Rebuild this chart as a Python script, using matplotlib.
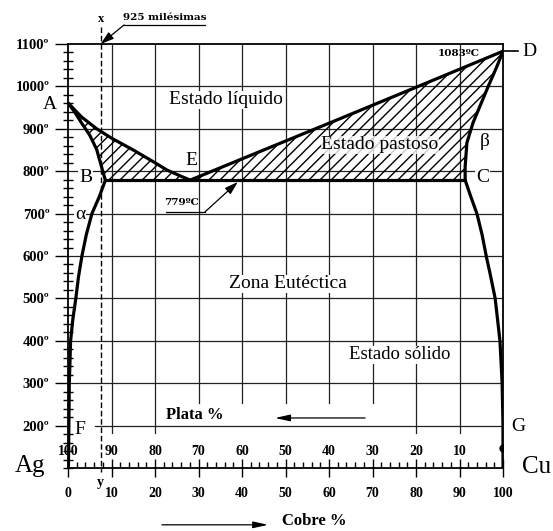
import matplotlib
matplotlib.use('Agg')
import matplotlib.pyplot as plt
from matplotlib.patches import Polygon

# liquidus lado plata (A -> E)
liq_ag_x = [0, 3.1, 6.6, 10, 15, 20, 22.7, 26, 28.1]
liq_ag_t = [961, 928, 900, 878, 850, 820, 803, 788, 779]
# liquidus lado cobre (E -> D)
liq_cu_x = [28.1, 60.2, 80.5, 100]
liq_cu_t = [779, 914, 1000, 1083]
# solidus alfa (A -> B)
sol_ag_x = [0, 1.5, 3.1, 5, 6.6, 8.1, 8.6]
sol_ag_t = [961, 940, 914, 885, 851, 796, 779]
# solvus alfa (B -> F)
solv_ag_x = [8.6, 7.2, 5.5, 4.2, 3.2, 2.4, 1.8, 1.1, 0.6, 0.3, 0.2, 0.1]
solv_ag_t = [779, 740, 700, 650, 600, 550, 500, 450, 400, 300, 200, 100]
# solidus beta (D -> C)
sol_cu_x = [100, 98.6, 96.6, 93.1, 91.7, 91.3, 91.3]
sol_cu_t = [1083, 1047, 1000, 914, 867, 811, 779]
# solvus beta (C -> G)
solv_cu_x = [91.3, 92.6, 94.0, 95.2, 96.2, 97.0, 98.2, 99.3, 99.8, 100, 100]
solv_cu_t = [779, 740, 700, 650, 597, 560, 500, 400, 300, 200, 100]

t_eutectica = 779
x_b, x_c, x_e = 8.6, 91.3, 28.1
x_aleacion = 7.5          # 925 milesimas
t_g = 147

temps = [200, 300, 400, 500, 600, 700, 800, 900, 1000, 1100]
cobre = [0, 10, 20, 30, 40, 50, 60, 70, 80, 90, 100]
plata = [100, 90, 80, 70, 60, 50, 40, 30, 20, 10]

SERIF = 'Liberation Serif'
plt.rcParams['font.family'] = [SERIF, 'DejaVu Serif']
plt.rcParams['hatch.linewidth'] = 1.0

fig = plt.figure(figsize=(5.53, 5.31), dpi=100)
ax = fig.add_axes([68/553, 63/531, 435/553, 424/531])
ax.set_xlim(0, 100)
ax.set_ylim(100, 1100)

for s in ax.spines.values():
    s.set_linewidth(1.3)

# ejes y marcas
ax.set_yticks(temps)
ax.set_yticklabels([f'{t}º' for t in temps], fontsize=10.5, fontweight='bold')
ax.set_yticks(range(100, 1101, 20), minor=True)
ax.tick_params(axis='y', which='major', direction='out', length=9.5, width=1, pad=4)
ax.tick_params(axis='y', which='minor', direction='inout', length=7, width=1)
ax.set_xticks(cobre)
ax.set_xticklabels([str(c) for c in cobre], fontsize=10, fontweight='bold')
ax.set_xticks(range(0, 101, 2), minor=True)
ax.tick_params(axis='x', which='major', direction='inout', length=13, width=1, pad=7)
ax.tick_params(axis='x', which='minor', direction='in', length=4, width=1)

# cuadricula
for t in temps[:-1]:
    x0 = 6.2 if t == 200 else 0
    ax.plot([x0, 100], [t, t], color='#222222', lw=0.9, zorder=1)
for c in cobre[1:-1]:
    t0 = 253 if 30 <= c <= 70 else 182
    ax.plot([c, c], [t0, 1100], color='#222222', lw=0.9, zorder=1)

# zona rayada (estado pastoso)
poly_x = liq_ag_x + liq_cu_x[1:] + sol_cu_x[1:] + [x_b] + sol_ag_x[::-1][1:]
poly_t = liq_ag_t + liq_cu_t[1:] + sol_cu_t[1:] + [t_eutectica] + sol_ag_t[::-1][1:]
ax.add_patch(Polygon(list(zip(poly_x, poly_t)), closed=True, facecolor='none',
                     edgecolor='black', hatch='///', lw=0, zorder=2))

# curvas
kw = dict(color='black', lw=2.3, zorder=4, solid_capstyle='round', solid_joinstyle='round')
ax.plot(liq_ag_x, liq_ag_t, **kw)
ax.plot(liq_cu_x, liq_cu_t, **kw)
ax.plot(sol_ag_x, sol_ag_t, **kw)
ax.plot(solv_ag_x, solv_ag_t, **kw)
ax.plot(sol_cu_x, sol_cu_t, **kw)
ax.plot(solv_cu_x, solv_cu_t, **kw)
ax.plot([x_b, x_c], [t_eutectica, t_eutectica], **kw)
ax.plot([100], [t_g], 'o', color='black', ms=5, zorder=5)

# linea de la aleacion 925
ax.plot([x_aleacion, x_aleacion], [1140, 90], color='black', lw=1, ls=(0, (4, 2)),
        clip_on=False, zorder=3)
ax.text(x_aleacion, 1160, 'x', fontsize=9, fontweight='bold', ha='center', va='center')
ax.text(x_aleacion, 65, 'y', fontsize=10, fontweight='bold', ha='center', va='center')
ax.text(22.2, 1163, '925 milésimas', fontsize=7.5, fontweight='bold', ha='center', va='center',
        family='DejaVu Serif')
ax.plot([12.9, 31.5], [1145, 1145], color='black', lw=0.9, clip_on=False)
ax.annotate('', xy=(x_aleacion, 1100), xytext=(12.9, 1145), annotation_clip=False,
            arrowprops=dict(arrowstyle='-|>,head_length=0.8,head_width=0.25',
                            color='black', lw=0.9, shrinkA=0, shrinkB=0))

# 779 y 1083
ax.text(26.2, 726, '779ºC', fontsize=7.5, fontweight='bold', ha='center', va='center',
        family='DejaVu Serif')
ax.plot([22.5, 31.5], [704, 704], color='black', lw=0.9)
ax.annotate('', xy=(39.5, t_eutectica), xytext=(31.5, 704),
            arrowprops=dict(arrowstyle='-|>,head_length=0.8,head_width=0.25',
                            color='black', lw=0.9, shrinkA=0, shrinkB=2))
ax.text(89.7, 1077, '1083ºC', fontsize=7.5, fontweight='bold', ha='center', va='center',
        family='DejaVu Serif')
ax.plot([100, 103.5], [1083, 1083], color='black', lw=1.2, clip_on=False)

# rotulos de zonas
box = dict(facecolor='white', edgecolor='none', pad=0.5)
ax.text(36.3, 968, 'Estado líquido', fontsize=14, ha='center', va='center', bbox=box, zorder=6)
ax.text(71.7, 862, 'Estado pastoso', fontsize=14, ha='center', va='center', zorder=6,
        bbox=dict(facecolor='white', edgecolor='none', pad=0.2, alpha=0.8))
ax.text(50.6, 534, 'Zona Eutéctica', fontsize=14, ha='center', va='center', bbox=box, zorder=6)
ax.text(76.3, 367, 'Estado sólido', fontsize=13.5, ha='center', va='center', bbox=box, zorder=6)

# letras de los puntos
ax.text(-4.1, 958, 'A', fontsize=14, ha='center', va='center', clip_on=False)
ax.text(4.1, 784, 'B', fontsize=14, ha='center', va='center', bbox=box, zorder=6)
ax.text(95.3, 786, 'C', fontsize=14, ha='center', va='center', bbox=box, zorder=6)
ax.text(106, 1083, 'D', fontsize=14, ha='center', va='center', clip_on=False)
ax.text(28.3, 826, 'E', fontsize=14, ha='center', va='center')
ax.text(2.8, 190, 'F', fontsize=14, ha='center', va='center')
ax.text(103.5, 199, 'G', fontsize=14, ha='center', va='center', clip_on=False)
ax.text(2.8, 699, 'α', fontsize=14, ha='center', va='center', bbox=box, zorder=6)
ax.text(95.9, 871, 'β', fontsize=14, ha='center', va='center')
ax.text(-8.7, 105, 'Ag', fontsize=18, ha='center', va='center', clip_on=False)
ax.text(107.8, 102, 'Cu', fontsize=18, ha='center', va='center', clip_on=False)

# escala de plata
for pos, p in zip(cobre, plata):
    ax.text(pos, 140, str(p), fontsize=10, fontweight='bold', ha='center', va='center')
ax.text(29.2, 224, 'Plata %', fontsize=12, fontweight='bold', ha='center', va='center')
ax.annotate('', xy=(47.6, 218), xytext=(68.3, 218),
            arrowprops=dict(arrowstyle='-|>,head_length=0.9,head_width=0.2',
                            color='black', lw=0.9, shrinkA=0, shrinkB=0))
ax.text(56.6, -25, 'Cobre %', fontsize=12, fontweight='bold', ha='center', va='center',
        clip_on=False)
ax.annotate('', xy=(46, -34), xytext=(21.6, -34), annotation_clip=False,
            arrowprops=dict(arrowstyle='-|>,head_length=0.9,head_width=0.2',
                            color='black', lw=0.9, shrinkA=0, shrinkB=0))

fig.savefig('out.png', dpi=100)
